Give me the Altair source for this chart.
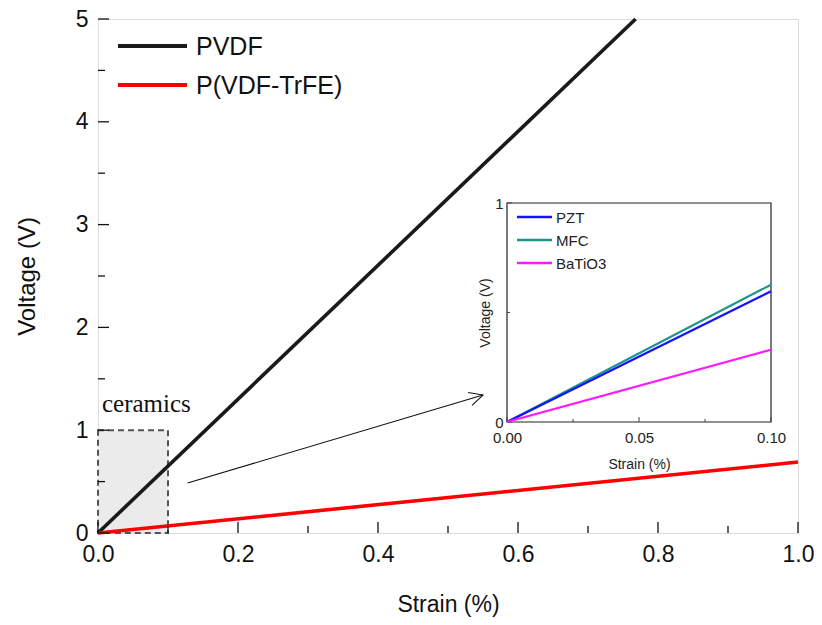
import altair as alt
import pandas as pd

# ---------------- data ----------------
main_series = ["PVDF", "P(VDF-TrFE)"]
main_colors = ["#1a1a1a", "#ff0000"]
pvdf_strain = [0.0, 0.768]
pvdf_voltage = [0.0, 5.0]
trfe_strain = [0.0, 1.0]
trfe_voltage = [0.0, 0.69]

inset_series = ["PZT", "MFC", "BaTiO3"]
inset_colors = ["#1414ff", "#1f958a", "#ff1aff"]
inset_strain = [0.0, 0.10]
pzt_voltage = [0.0, 0.597]
mfc_voltage = [0.0, 0.627]
batio3_voltage = [0.0, 0.330]

main_x_major = [0.0, 0.2, 0.4, 0.6, 0.8, 1.0]
main_x_minor = [0.1, 0.3, 0.5, 0.7, 0.9]
main_y_major = [0, 1, 2, 3, 4, 5]
main_y_minor = [0.5, 1.5, 2.5, 3.5, 4.5]
inset_x_major = [0.0, 0.05, 0.10]
inset_x_minor = [0.025, 0.075]
inset_y_major = [0, 1]
inset_y_minor = [0.5]

box_x = [0.0, 0.1]
box_y = [0.0, 1.0]
ceramics_label = "ceramics"
ceramics_pos = [0.0, 1.18]
arrow_x = [0.128, 0.550]
arrow_y = [0.486, 1.342]

# ---------------- layout ----------------
W, H = 700, 514
IX = [409, 673]
IY = [403, 184]
FONT = "Liberation Sans"

mx = alt.Scale(domain=[0, 1], nice=False, zero=False)
my = alt.Scale(domain=[0, 5], nice=False, zero=False)
ix = alt.Scale(domain=[0, 0.1], nice=False, zero=False, range=IX)
iy = alt.Scale(domain=[0, 1], nice=False, zero=False, range=IY)

main_xaxis = alt.Axis(title="Strain (%)", values=main_x_major, format=".1f", tickSize=0,
                      labelPadding=10, titlePadding=27, labelFontSize=23, titleFontSize=23,
                      domain=False, grid=False, orient="bottom", labelColor="#111", labelFlush=False,
                      titleColor="#111", titleFontWeight="normal", labelFont=FONT, titleFont=FONT)
main_yaxis = alt.Axis(title="Voltage (V)", values=main_y_major, format="d", tickSize=0,
                      labelPadding=10, titlePadding=36, labelFontSize=23, titleFontSize=24,
                      domain=False, grid=False, orient="left", labelColor="#111", labelFlush=False,
                      titleColor="#111", titleFontWeight="normal", labelFont=FONT, titleFont=FONT)
inset_xaxis = alt.Axis(title="Strain (%)", values=inset_x_major, format=".2f", tickSize=0,
                       labelPadding=8, titlePadding=12, labelFontSize=15, titleFontSize=14,
                       domain=False, grid=False, orient="bottom", offset=-(H - IY[0]), labelFlush=False,
                       labelColor="#222", titleColor="#222", titleFontWeight="normal",
                       labelFont=FONT, titleFont=FONT)
inset_yaxis = alt.Axis(title="Voltage (V)", values=inset_y_major, format="d", tickSize=0,
                       labelPadding=4, titlePadding=2, labelFontSize=15, titleFontSize=14,
                       domain=False, grid=False, orient="left", offset=-IX[0], labelFlush=False,
                       labelColor="#222", titleColor="#222", titleFontWeight="normal",
                       labelFont=FONT, titleFont=FONT)


def MX(f="x"):
    return alt.X(f"{f}:Q", scale=mx, axis=main_xaxis)


def MY(f="y"):
    return alt.Y(f"{f}:Q", scale=my, axis=main_yaxis)


def IXe(f="x"):
    return alt.X(f"{f}:Q", scale=ix, axis=inset_xaxis)


def IYe(f="y"):
    return alt.Y(f"{f}:Q", scale=iy, axis=inset_yaxis)


# ---------------- main layers ----------------
box_df = pd.DataFrame({"x": [box_x[0]], "x2": [box_x[1]], "y": [box_y[0]], "y2": [box_y[1]]})
box = alt.Chart(box_df).mark_rect(fill="#ebebeb", stroke="#555555", strokeDash=[6, 4],
                                  strokeWidth=2).encode(
    x=MX(), x2="x2:Q", y=MY(), y2="y2:Q")

main_data = [(pvdf_strain, pvdf_voltage), (trfe_strain, trfe_voltage)]
main_lines = []
for name, col, (sx, sy) in zip(main_series, main_colors, main_data):
    df = pd.DataFrame({"x": sx, "y": sy})
    main_lines.append(alt.Chart(df).mark_line(color=col, strokeWidth=3.6).encode(x=MX(), y=MY()))

tick_layers = []
for vals, ln in [(main_x_major, 11), (main_x_minor, 7)]:
    tick_layers.append(alt.Chart(pd.DataFrame({"x": vals})).mark_rule(color="#111", strokeWidth=1.3).encode(
        x=MX(), y=alt.value(H), y2=alt.value(H - ln)))
for vals, ln in [(main_y_major, 11), (main_y_minor, 7)]:
    tick_layers.append(alt.Chart(pd.DataFrame({"y": vals})).mark_rule(color="#111", strokeWidth=1.3).encode(
        y=MY(), x=alt.value(0), x2=alt.value(ln)))

cer = alt.Chart(pd.DataFrame({"x": [ceramics_pos[0]], "y": [ceramics_pos[1]], "t": [ceramics_label]})).mark_text(
    font="Liberation Serif", fontSize=25, align="left", baseline="alphabetic", dx=4, color="#111").encode(
    x=MX(), y=MY(), text="t:N")

arrow_df = pd.DataFrame({"x": [arrow_x[0]], "x2": [arrow_x[1]], "y": [arrow_y[0]], "y2": [arrow_y[1]]})
arrow_line = alt.Chart(arrow_df).mark_rule(color="#111", strokeWidth=1.1).encode(
    x=MX(), x2="x2:Q", y=MY(), y2="y2:Q")
head_df = pd.DataFrame({"x": [arrow_x[1]], "y": [arrow_y[1]]})
arrow_head = alt.Chart(head_df).mark_point(
    shape="M-1.1,-0.55L0,0L-1.1,0.55", filled=False, stroke="#111", strokeWidth=1.1,
    size=600, angle=343.4, opacity=1).encode(x=MX(), y=MY())

legend_layers = []
for i, (name, col) in enumerate(zip(main_series, main_colors)):
    d = pd.DataFrame({"name": [name]})
    yy = 27 + 39 * i
    legend_layers.append(alt.Chart(d).mark_rule(color=col, strokeWidth=4).encode(
        x=alt.value(20), x2=alt.value(89), y=alt.value(yy)))
    legend_layers.append(alt.Chart(d).mark_text(align="left", baseline="middle", fontSize=25,
                                                font=FONT, color="#111").encode(
        x=alt.value(98), y=alt.value(yy + 1), text="name:N"))

main = alt.layer(box, *main_lines, *tick_layers, cer, arrow_line, arrow_head, *legend_layers)

# ---------------- inset layers ----------------
ibox_df = pd.DataFrame({"x": [inset_strain[0]], "x2": [inset_strain[1]], "y": [0.0], "y2": [1.0]})
ibox = alt.Chart(ibox_df).mark_rect(fill="white", stroke="#222", strokeWidth=1.2).encode(
    x=IXe(), x2="x2:Q", y=IYe(), y2="y2:Q")

itick = []
for vals, ln in [(inset_x_major, 5), (inset_x_minor, 3)]:
    itick.append(alt.Chart(pd.DataFrame({"x": vals})).mark_rule(color="#444", strokeWidth=1).encode(
        x=IXe(), y=alt.value(IY[0]), y2=alt.value(IY[0] - ln)))
for vals, ln in [(inset_y_major, 5), (inset_y_minor, 3)]:
    itick.append(alt.Chart(pd.DataFrame({"y": vals})).mark_rule(color="#444", strokeWidth=1).encode(
        y=IYe(), x=alt.value(IX[0]), x2=alt.value(IX[0] + ln)))

inset_data = [pzt_voltage, mfc_voltage, batio3_voltage]
ilines = []
for name, col, vy in zip(inset_series, inset_colors, inset_data):
    df = pd.DataFrame({"x": inset_strain, "y": vy})
    ilines.append(alt.Chart(df).mark_line(color=col, strokeWidth=2.2).encode(x=IXe(), y=IYe()))
# draw MFC under PZT
ilines = [ilines[1], ilines[0], ilines[2]]

ileg = []
for i, (name, col) in enumerate(zip(inset_series, inset_colors)):
    d = pd.DataFrame({"name": [name]})
    yy = 198 + 23 * i
    ileg.append(alt.Chart(d).mark_rule(color=col, strokeWidth=2.5).encode(
        x=alt.value(419), x2=alt.value(454), y=alt.value(yy)))
    ileg.append(alt.Chart(d).mark_text(align="left", baseline="middle", fontSize=15,
                                       font=FONT, color="#222").encode(
        x=alt.value(458), y=alt.value(yy + 1), text="name:N"))

inset = alt.layer(ibox, *itick, *ilines, *ileg)

chart = alt.layer(main, inset).resolve_scale(x="independent", y="independent").properties(
    width=W, height=H,
    autosize=alt.AutoSizeParams(type="none"),
    padding={"left": 90, "top": 11, "right": 16, "bottom": 84},
    background="white",
).configure_view(stroke="#111", strokeWidth=1.6).configure(font=FONT)

chart.save("out.html", embed_options={"renderer": "svg", "actions": False})
